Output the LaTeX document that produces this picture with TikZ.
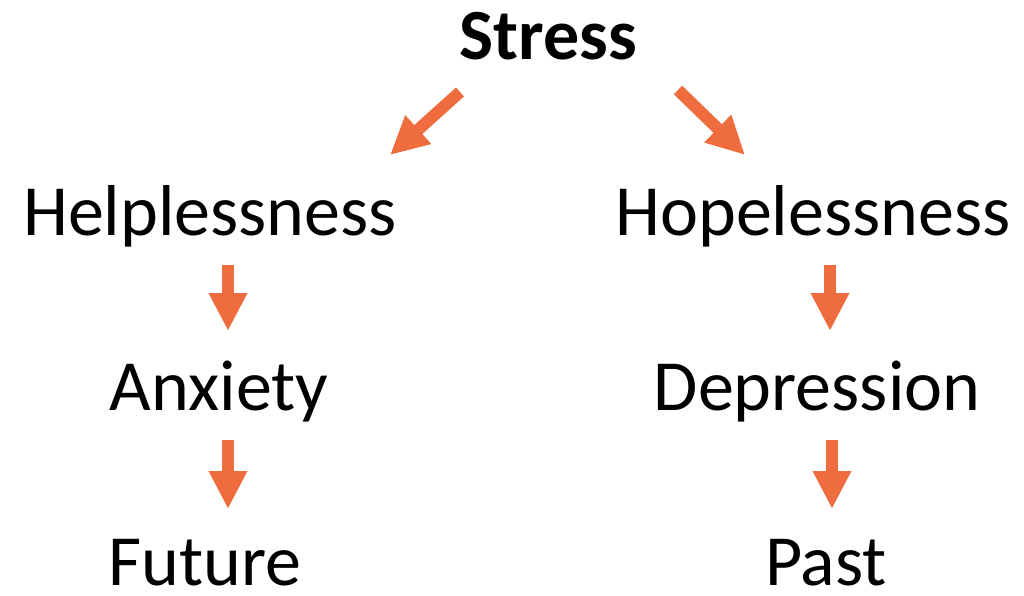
\documentclass[tikz,border=0pt]{standalone}
\usepackage{fontspec}
\setmainfont{Carlito}
\usetikzlibrary{arrows.meta}
\definecolor{arrorange}{HTML}{EF6C3E}
\begin{document}
\begin{tikzpicture}[x=1pt,y=-1pt,
  word/.style={anchor=base, inner sep=0pt, font=\fontsize{72}{76}\selectfont},
  arr/.style={draw=arrorange, line width=12pt,
    -{Triangle[width=36pt,length=38pt]}, arrorange}]
\useasboundingbox (0,0) rectangle (1024,596);

% words
\node[word, font=\fontsize{72}{76}\selectfont\bfseries] (stress) at (548,60) {Stress};
\node[word] (help) at (210,235) {Helplessness};
\node[word] (hope) at (813,235) {Hopelessness};
\node[word] (anx)  at (219,410) {Anxiety};
\node[word] (dep)  at (817,410) {Depression};
\node[word, text depth=0pt] (fut)  at (205,585) {Future};
\node[word, text depth=0pt] (past) at (826,585) {Past};

% arrow end points
\coordinate (s1) at (460,92);   \coordinate (h1) at (390,155);
\coordinate (s2) at (678,90);   \coordinate (h2) at (745,155);
\coordinate (a0) at (228,265);  \coordinate (a1) at (228,331);
\coordinate (f0) at (228,440);  \coordinate (f1) at (228,509);
\coordinate (d0) at (830,265);  \coordinate (d1) at (830,331);
\coordinate (p0) at (832,440);  \coordinate (p1) at (832,509);

% arrows
\draw[arr] (s1) -- (h1);
\draw[arr] (s2) -- (h2);
\draw[arr] (a0) -- (a1);
\draw[arr] (f0) -- (f1);
\draw[arr] (d0) -- (d1);
\draw[arr] (p0) -- (p1);
\end{tikzpicture}
\end{document}
